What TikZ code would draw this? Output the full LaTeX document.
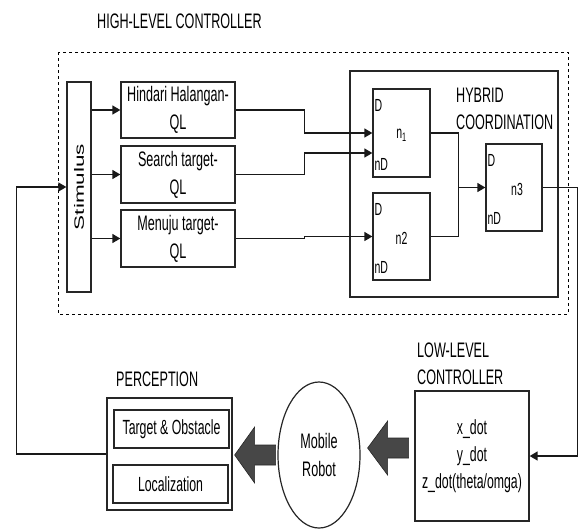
\documentclass[tikz,border=0pt]{standalone}
\usepackage{graphicx}
\usepackage{fontspec}
\setmainfont{Liberation Sans}[FakeStretch=0.6]
\newfontfamily\uprightsans{Liberation Sans}
\usetikzlibrary{arrows.meta,calc,shapes.geometric}

\begin{document}
\begin{tikzpicture}[x=1pt,y=-1pt,
  box/.style={draw=black!85, line width=1.3pt, inner sep=0pt},
  txt/.style={font=\fontsize{21}{28}\selectfont, align=center},
  head/.style={font=\fontsize{21}{26.5}\selectfont, align=left, inner sep=0pt},
  small/.style={font=\fontsize{17.5}{17.5}\selectfont, inner sep=0pt},
  conn/.style={line width=1.5pt, black!90},
  arr/.style={conn, -{Triangle[length=8pt,width=9pt]}},
  bigarr/.style={fill=black!72, draw=black!85, line width=0.6pt},
]
\useasboundingbox (0,0) rectangle (580,531);

% high-level controller frame
\node[head, anchor=north west] (hlctitle) at (97,14) {HIGH-LEVEL CONTROLLER};
\draw[line width=1pt, dash pattern=on 3pt off 3pt] (58,52) rectangle (568,314);

% stimulus and the three Q-learning behaviours
\node[box, minimum width=24pt, minimum height=210pt] (stim) at (79,187)
  {\scalebox{0.6}[1]{\rotatebox{90}{\uprightsans\fontsize{22.5}{22.5}\selectfont Stimulus}}};
\node[box, txt, minimum width=114pt, minimum height=56pt] (q1) at (178,110) {Hindari Halangan-\\QL};
\node[box, txt, minimum width=114pt, minimum height=57pt] (q2) at (178,174.5) {Search target-\\QL};
\node[box, txt, minimum width=114pt, minimum height=57pt] (q3) at (178,238.5) {Menuju target-\\QL};

% hybrid coordination block
\node[box, minimum width=208pt, minimum height=226pt] (hyb) at (454,184) {};
\node[head, anchor=north west] (hybtitle) at (456,88) {HYBRID\\COORDINATION};
\node[box, minimum width=57pt, minimum height=88pt] (n1) at (401.5,133) {};
\node[box, minimum width=57pt, minimum height=87pt] (n2) at (401.5,236.5) {};
\node[box, minimum width=56pt, minimum height=87pt] (n3) at (514,187.5) {};
\node[small] (n1lbl) at ($(n1.center)+(0,2)$) {n\textsubscript{1}};
\node[small] (n2lbl) at ($(n2.center)+(0,1.5)$) {n2};
\node[small] (n3lbl) at ($(n3.center)+(3,1.5)$) {n3};
\foreach \n in {n1,n2,n3}{
  \node[small, anchor=north west] (\n D) at ($(\n.north west)+(2,11)$) {D};
  \node[small, anchor=base west] (\n nD) at ($(\n.south west)+(2,-7)$) {nD};
}

% low-level controller
\node[head, anchor=north west] (lowtitle) at (417,343) {LOW-LEVEL\\CONTROLLER};
\node[box, minimum width=114pt, minimum height=130pt, font=\fontsize{20.5}{27}\selectfont, align=center]
  (low) at (472,456) {x\_dot\\y\_dot\\z\_dot(theta/omga)};

% mobile robot
\node[draw=black!85, line width=1.2pt, ellipse, minimum width=82pt, minimum height=146pt, inner sep=0pt,
  font=\fontsize{21}{28}\selectfont, align=center] (robot) at (319,455) {Mobile\\Robot};

% perception
\node[head, anchor=north west] (perctitle) at (116,372) {PERCEPTION};
\node[box, minimum width=125pt, minimum height=112pt] (perc) at (169.5,454) {};
\node[box, txt, font=\fontsize{20.5}{20.5}\selectfont, minimum width=115pt, minimum height=38pt] (tgt) at (171.5,429) {Target \& Obstacle};
\node[box, txt, font=\fontsize{20.5}{20.5}\selectfont, minimum width=115pt, minimum height=38pt] (loc) at (170.5,484) {Localization};

% stimulus to behaviours
\foreach \q in {q1,q2,q3}{
  \draw[arr] (stim.east |- \q.west) -- (\q.west);
}
% behaviours to coordination nodes
\draw[arr] (q1.east) -- ++(69,0) |- (n1.west);
\draw[arr] (q2.east) -- ++(69,0) |- ($(n1.west)+(0,20)$);
\draw[arr] (q3.east) -- ++(69,0) |- (n2.west);
% n1, n2 merged into n3
\draw[conn] (n1.east) -- ++(28,0) coordinate (ja) |- (n2.east);
\draw[arr] (ja |- n3.west) -- (n3.west);
% n3 down to the low-level controller
\draw[arr] (n3.east) -- ++(35,0) |- (low.east);
% perception fed back to the stimulus
\draw[arr] (perc.west) -- ++(-90,0) |- (stim.west);

% block arrows: controller -> robot -> perception
\path (perc.east) ++(2,1) coordinate (t1);
\filldraw[bigarr] (t1) -- ++(20,-28) -- ++(0,18) -- ++(21,0) -- ++(0,20) -- ++(-21,0) -- ++(0,18) -- cycle;
\path (robot.east) ++(7,-7) coordinate (t2);
\filldraw[bigarr] (t2) -- ++(20,-27) -- ++(0,17) -- ++(21,0) -- ++(0,20) -- ++(-21,0) -- ++(0,17) -- cycle;
\end{tikzpicture}
\end{document}
